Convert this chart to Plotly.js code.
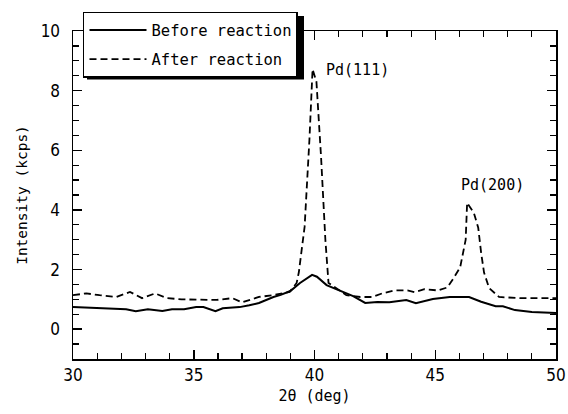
<!DOCTYPE html>
<html><head><meta charset="utf-8">
<script src="https://cdn.plot.ly/plotly-3.0.1.min.js"></script>
<style>html,body{margin:0;padding:0;background:#fff}</style>
</head><body><div id="chart" style="width:568px;height:414px"></div>
<script>
const seriesNames = ["Before reaction", "After reaction"];
const beforeX = [30.0, 30.6, 31.1, 31.7, 32.2, 32.6, 33.1, 33.7, 34.1, 34.6, 35.1, 35.4, 35.9, 36.2, 36.9, 37.3, 37.7, 38.3, 38.6, 39.0, 39.4, 39.9, 40.1, 40.5, 40.9, 41.6, 42.1, 42.6, 43.1, 43.8, 44.2, 44.9, 45.6, 46.4, 46.9, 47.5, 47.8, 48.3, 49.0, 49.6, 50.0];
const beforeY = [0.74, 0.72, 0.70, 0.68, 0.67, 0.60, 0.67, 0.61, 0.67, 0.67, 0.74, 0.74, 0.60, 0.70, 0.74, 0.80, 0.88, 1.08, 1.15, 1.28, 1.55, 1.82, 1.76, 1.48, 1.35, 1.11, 0.88, 0.91, 0.90, 0.98, 0.87, 1.01, 1.08, 1.08, 0.92, 0.77, 0.77, 0.64, 0.58, 0.55, 0.54];
const afterX = [30.0, 30.55, 31.1, 31.8, 32.36, 32.86, 33.4, 33.9, 34.5, 35.2, 35.95, 36.6, 37.0, 37.7, 38.26, 38.97, 39.26, 39.35, 39.59, 39.79, 39.92, 40.08, 40.27, 40.45, 40.58, 41.32, 41.9, 42.4, 42.8, 43.3, 43.85, 44.15, 44.55, 45.1, 45.5, 45.75, 46.03, 46.26, 46.32, 46.6, 46.78, 46.9, 47.02, 47.23, 47.64, 48.5, 50.0];
const afterY = [1.14, 1.2, 1.14, 1.08, 1.25, 1.04, 1.2, 1.04, 1.0, 1.0, 0.98, 1.04, 0.9, 1.08, 1.14, 1.25, 1.55, 1.9, 3.43, 6.36, 8.72, 8.3, 5.8, 3.0, 1.55, 1.14, 1.08, 1.08, 1.2, 1.3, 1.3, 1.24, 1.34, 1.3, 1.4, 1.7, 2.07, 3.0, 4.24, 3.9, 3.4, 2.56, 1.9, 1.38, 1.08, 1.04, 1.04];
const xTicks = [30, 35, 40, 45, 50];
const yTicks = [0, 2, 4, 6, 8, 10];
const peakLabels = ["Pd(111)", "Pd(200)"];
const peakLabelX = [40.38, 46.0];
const peakLabelY = [8.7, 4.83];

const mono = "DejaVu Sans Mono, Liberation Mono, monospace";
const narrow = "DejaVu Sans Condensed, Liberation Sans, Arial, sans-serif";

const traces = [
  {x: beforeX, y: beforeY, name: seriesNames[0], legendgroup: "a", mode: "lines", line: {color: "#000", width: 2}},
  {x: afterX, y: afterY, name: seriesNames[1], legendgroup: "b", mode: "lines", line: {color: "#000", width: 1.8, dash: "7px,4px"}}
];

const axisCommon = {
  showline: true, linecolor: "#000", linewidth: 1.5, mirror: "ticks",
  ticks: "inside", ticklen: 9, tickwidth: 1.5, tickcolor: "#000",
  showgrid: false, zeroline: false,
  tickfont: {family: narrow, size: 17, color: "#000"}
};

const layout = {
  width: 568, height: 414,
  margin: {l: 73, r: 12, t: 31, b: 55},
  paper_bgcolor: "#fff", plot_bgcolor: "#fff",
  showlegend: true,
  legend: {
    x: 0.0207, y: 1.058, xanchor: "left", yanchor: "top",
    bgcolor: "#fff", bordercolor: "#000", borderwidth: 1.5,
    font: {family: mono, size: 15.5, color: "#000"},
    itemwidth: 57, tracegroupgap: 6
  },
  xaxis: Object.assign({}, axisCommon, {
    range: [30, 50], tickvals: xTicks, ticklabelstandoff: 0,
    minor: {dtick: 1, tick0: 30, ticks: "inside", ticklen: 6, tickwidth: 1.2, tickcolor: "#000"},
    title: {text: "2θ (deg)", font: {family: mono, size: 15, color: "#000"}, standoff: 6}
  }),
  yaxis: Object.assign({}, axisCommon, {
    range: [-1, 10], tickvals: yTicks, ticklabelstandoff: 8,
    minor: {dtick: 0.5, tick0: 0, ticks: "inside", ticklen: 6, tickwidth: 1.2, tickcolor: "#000"},
    title: {text: "Intensity (kcps)", font: {family: mono, size: 14.5, color: "#000"}, standoff: 9}
  }),
  annotations: peakLabels.map((t, i) => ({
    x: peakLabelX[i], y: peakLabelY[i], xref: "x", yref: "y",
    text: t, showarrow: false, xanchor: "left", yanchor: "middle",
    font: {family: mono, size: 15, color: "#000"}
  })),
  shapes: [
    {type: "rect", xref: "paper", yref: "paper", layer: "above",
     x0: (87 - 73) / 483, x1: (304 - 73) / 483,
     y0: (359 - 79.5) / 328, y1: (359 - 16) / 328,
     fillcolor: "#000", line: {width: 0}}
  ]
};

Plotly.newPlot("chart", traces, layout, {staticPlot: true, displayModeBar: false});
</script></body></html>
